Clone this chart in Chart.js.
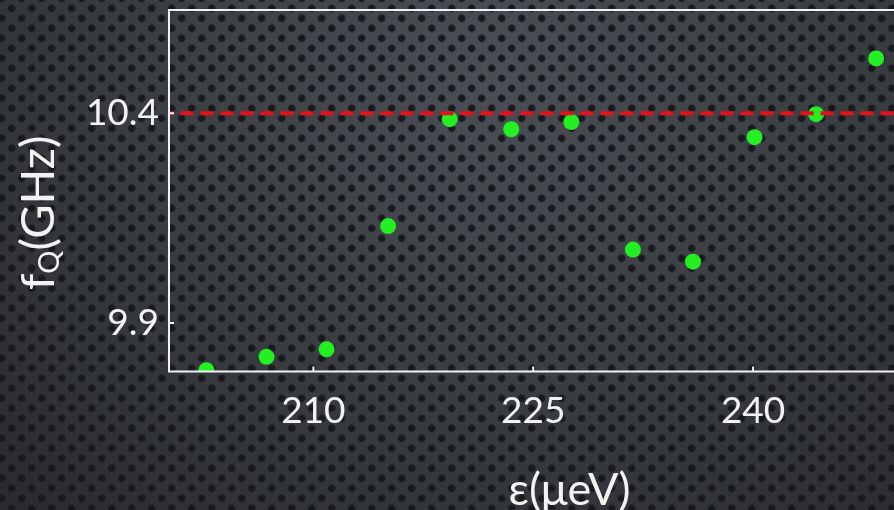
<!DOCTYPE html>
<html>
<head>
<meta charset="utf-8">
<title>fQ vs epsilon</title>
<script src="https://cdn.jsdelivr.net/npm/chart.js@4"></script>
<style>
    html, body { margin: 0; padding: 0; width: 894px; height: 510px; overflow: hidden; }
    body {
        background-color: #35383d;
        background-image:
            radial-gradient(circle, #17191c 3.3px, rgba(23,25,28,0) 4.1px),
            radial-gradient(circle, #17191c 3.3px, rgba(23,25,28,0) 4.1px),
            radial-gradient(ellipse at 55% 15%, #4b4e54 0%, #3c3f44 45%, #282a2e 100%);
        background-size: 20px 20px, 20px 20px, 100% 100%;
        background-position: 11.7px 8.3px, 1.7px 18.3px, 0 0;
    }
    /* plot runs past the right edge of the window, like the original */
    #wrap { position: absolute; left: 0; top: 0; width: 970px; height: 510px; }
</style>
</head>
<body>
<div id="wrap"><canvas id="chart" width="970" height="510"></canvas></div>
<script>
// measured points: detuning epsilon (ueV) vs qubit frequency fQ (GHz)
const epsilon = [202.7, 206.8, 210.9, 215.1, 219.3, 223.5, 227.6, 231.8, 235.9, 240.1, 244.3, 248.4];
const fQ = [9.787, 9.819, 9.837, 10.131, 10.386, 10.362, 10.379, 10.075, 10.046, 10.343, 10.398, 10.531];
const refLevel = 10.4;

const xTicks = [210, 225, 240];
const yTicks = [9.9, 10.4];
const xRange = [200.15, 254.8];
const yRange = [9.784, 10.6465];

const WHITE = '#f2f2f2';
const FONT = 'Lato';

// white box round the plot + short inward tick marks
const framePlugin = {
    id: 'frame',
    afterDraw(chart) {
        const { ctx, chartArea: a, scales } = chart;
        ctx.save();
        ctx.strokeStyle = WHITE;
        ctx.lineWidth = 2;
        ctx.strokeRect(a.left, a.top, a.right - a.left, a.bottom - a.top);
        ctx.beginPath();
        xTicks.forEach(v => {
            const px = scales.x.getPixelForValue(v);
            ctx.moveTo(px, a.bottom);
            ctx.lineTo(px, a.bottom - 5);
        });
        yTicks.forEach(v => {
            const py = scales.y.getPixelForValue(v);
            ctx.moveTo(a.left, py);
            ctx.lineTo(a.left + 5, py);
        });
        ctx.stroke();
        ctx.restore();
    }
};

// y title needs a subscript, so draw it by hand
const yTitlePlugin = {
    id: 'yTitle',
    afterDraw(chart) {
        const { ctx, chartArea: a } = chart;
        const big = '47px ' + FONT, small = '29px ' + FONT;
        ctx.save();
        ctx.fillStyle = WHITE;
        ctx.textAlign = 'left';
        ctx.textBaseline = 'alphabetic';
        ctx.font = big;
        const wf = ctx.measureText('f').width;
        const wr = ctx.measureText('(GHz)').width;
        ctx.font = small;
        const wq = ctx.measureText('Q').width;
        const total = wf + wq + wr;
        const cy = (a.top + a.bottom) / 2 + 22;
        ctx.translate(54, cy + total / 2);
        ctx.rotate(-Math.PI / 2);
        ctx.font = big;
        ctx.fillText('f', 0, 0);
        ctx.font = small;
        ctx.fillText('Q', wf, 5);
        ctx.font = big;
        ctx.fillText('(GHz)', wf + wq, 0);
        ctx.restore();
    }
};

new Chart(document.getElementById('chart'), {
    type: 'scatter',
    data: {
        datasets: [
            {
                type: 'line',
                label: 'reference',
                data: [{ x: xRange[0], y: refLevel }, { x: xRange[1], y: refLevel }],
                borderColor: '#e8101c',
                borderWidth: 4,
                borderDash: [13, 7],
                borderDashOffset: 8.5,
                pointRadius: 0,
                order: 0,
                clip: 0
            },
            {
                label: 'fQ',
                data: epsilon.map((e, i) => ({ x: e, y: fQ[i] })),
                backgroundColor: '#22f022',
                borderWidth: 0,
                pointRadius: 8,
                order: 1,
                clip: 0
            }
        ]
    },
    options: {
        responsive: false,
        animation: false,
        events: [],
        layout: { autoPadding: false, padding: { top: 10, left: 0, right: 0, bottom: 0 } },
        plugins: { legend: { display: false }, tooltip: { enabled: false } },
        scales: {
            x: {
                type: 'linear',
                min: xRange[0],
                max: xRange[1],
                afterBuildTicks: s => { s.ticks = xTicks.map(v => ({ value: v })); },
                afterFit: s => { s.height = 138.5; s.paddingLeft = 0; s.paddingRight = 0; },
                grid: { display: false, drawTicks: false },
                border: { display: false },
                ticks: { color: WHITE, font: { family: FONT, size: 37 }, padding: 17, maxRotation: 0, autoSkip: false },
                title: {
                    display: true,
                    text: 'ε(μeV)',
                    color: WHITE,
                    font: { family: FONT, size: 45 },
                    padding: { top: 0, bottom: -7 }
                }
            },
            y: {
                type: 'linear',
                min: yRange[0],
                max: yRange[1],
                afterBuildTicks: s => { s.ticks = yTicks.map(v => ({ value: v })); },
                afterFit: s => { s.width = 169; s.paddingTop = 0; s.paddingBottom = 0; },
                grid: { display: false, drawTicks: false },
                border: { display: false },
                ticks: { color: WHITE, font: { family: FONT, size: 37 }, padding: 10, autoSkip: false }
            }
        }
    },
    plugins: [framePlugin, yTitlePlugin]
});
</script>
</body>
</html>
